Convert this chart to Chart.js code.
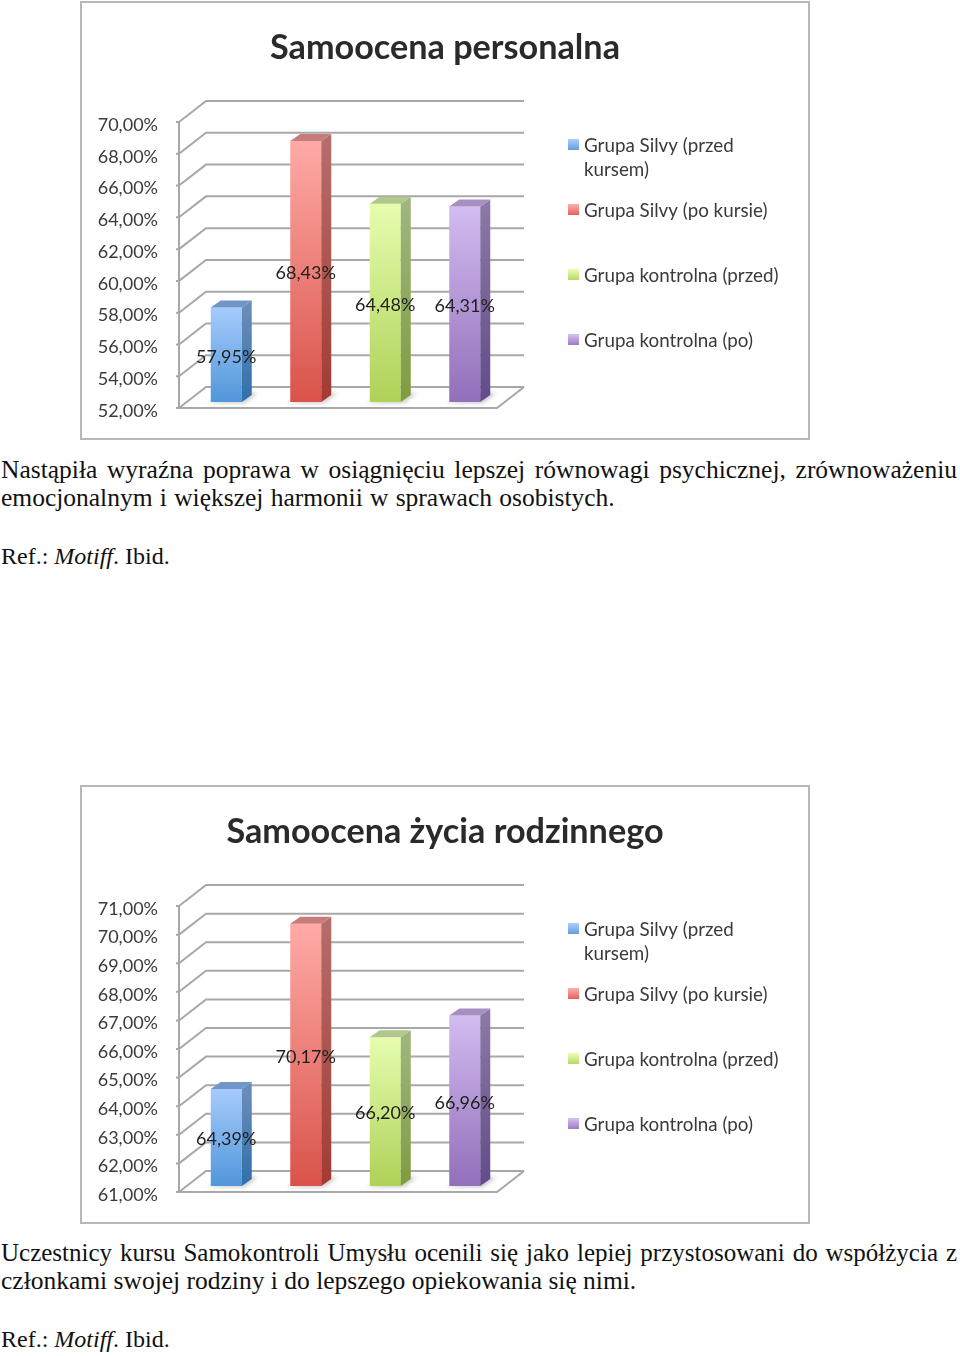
<!DOCTYPE html>
<html lang="pl">
<head>
<meta charset="utf-8">
<title>Samoocena</title>
<script src="https://cdn.jsdelivr.net/npm/chart.js@4"></script>
<style>
  html, body { margin: 0; background: #fff; }
  body { position: relative; width: 960px; height: 1356px; overflow: hidden; }
  .box { position: absolute; left: 80px; width: 726px; height: 435px; border: 2px solid #b8b8b8; background: #fff; }
  canvas { display: block; }
  .line { position: absolute; left: 1px; font: 25.5px/28px "Liberation Serif", serif; color: #111; white-space: nowrap; }
  .just { width: 956px; white-space: normal; text-align: justify; text-align-last: justify; }
  .ref { font-size: 24px; }
</style>
</head>
<body>
<div class="box" style="top:1px"><canvas id="chartPersonal" width="726" height="435"></canvas></div>
<div class="line just" style="top:456px">Nastąpiła wyraźna poprawa w osiągnięciu lepszej równowagi psychicznej, zrównoważeniu</div>
<div class="line" style="top:484px;word-spacing:.9px">emocjonalnym i większej harmonii w sprawach osobistych.</div>
<div class="line ref" style="top:542px">Ref.: <i>Motiff</i>. Ibid.</div>

<div class="box" style="top:785px"><canvas id="chartFamily" width="726" height="435"></canvas></div>
<div class="line just" style="top:1239px;font-size:25px">Uczestnicy kursu Samokontroli Umysłu ocenili się jako lepiej przystosowani do współżycia z</div>
<div class="line" style="top:1267px">członkami swojej rodziny i do lepszego opiekowania się nimi.</div>
<div class="line ref" style="top:1325px">Ref.: <i>Motiff</i>. Ibid.</div>

<script>
const seriesNames = ['Grupa Silvy (przed kursem)', 'Grupa Silvy (po kursie)', 'Grupa kontrolna (przed)', 'Grupa kontrolna (po)']
const legendLines = [['Grupa Silvy (przed', 'kursem)'], ['Grupa Silvy (po kursie)'], ['Grupa kontrolna (przed)'], ['Grupa kontrolna (po)']]

const personalValues = [57.95, 68.43, 64.48, 64.31]
const personalTicks = [52, 54, 56, 58, 60, 62, 64, 66, 68, 70]

const familyValues = [64.39, 70.17, 66.20, 66.96]
const familyTicks = [61, 62, 63, 64, 65, 66, 67, 68, 69, 70, 71]

const faceTop = ['#a6cbfb', '#ffaaa6', '#e6fdae', '#d2bcf0']
const faceBottom = ['#5196da', '#d9534a', '#afd158', '#926fba']
const sideTop = ['#6a8db8', '#b36d6a', '#9fb57c', '#8b78a6']
const sideBottom = ['#2f70aa', '#a33b33', '#7f9c40', '#644a8b']
const capColor = ['#7096c8', '#c87c79', '#b0c88b', '#a790c1']

const fontName = 'Lato, sans-serif'
const textColor = '#3a3a3a'
const gridColor = '#a8a8a8'

// how far the bars and the back wall sit behind the axis line
const barShiftX = 7.5
const barShiftY = 6
const wallX = 27
const wallY = 21

function percent(v) {
  return v.toFixed(2).replace('.', ',') + '%'
}

const look3d = {
  id: 'look3d',
  afterLayout(chart) {
    // title is centred on the whole box, not on the padded part
    chart.titleBlock.left = 0
    chart.titleBlock.right = chart.width
  },
  beforeDatasetsDraw(chart) {
    const ctx = chart.ctx
    const { left, right, bottom } = chart.chartArea
    const y = chart.scales.y
    ctx.save()
    ctx.strokeStyle = gridColor
    ctx.lineWidth = 2
    ctx.beginPath()
    y.ticks.forEach(t => {
      const py = y.getPixelForValue(t.value)
      ctx.moveTo(left - 3, py)
      ctx.lineTo(left, py)
      ctx.lineTo(left + wallX, py - wallY)
      ctx.lineTo(right + wallX, py - wallY)
    })
    ctx.moveTo(left, y.top)
    ctx.lineTo(left, bottom)
    ctx.lineTo(right, bottom)
    ctx.lineTo(right + wallX, bottom - wallY)
    ctx.stroke()

    // floor shadows
    ctx.filter = 'blur(2px)'
    ctx.fillStyle = 'rgba(0,0,0,0.22)'
    chart.data.datasets.forEach((ds, i) => {
      const bar = chart.getDatasetMeta(i).data[0]
      const x0 = bar.x + barShiftX - bar.width / 2
      const x1 = bar.x + barShiftX + bar.width / 2
      const b = bar.base - barShiftY
      ctx.beginPath()
      ctx.moveTo(x0 - 4, b + 1)
      ctx.lineTo(x1 + 3, b + 1)
      ctx.lineTo(x1 + 16, b - 9)
      ctx.lineTo(x1 + 8, b - 9)
      ctx.closePath()
      ctx.fill()
    })
    ctx.restore()

    // bars stand halfway into the floor
    ctx.save()
    ctx.translate(barShiftX, -barShiftY)
  },
  afterDatasetsDraw(chart) {
    const ctx = chart.ctx
    ctx.restore()
    ctx.save()
    chart.data.datasets.forEach((ds, i) => {
      const bar = chart.getDatasetMeta(i).data[0]
      const x0 = bar.x + barShiftX - bar.width / 2
      const x1 = bar.x + barShiftX + bar.width / 2
      const top = bar.y - barShiftY
      const b = bar.base - barShiftY

      const g = ctx.createLinearGradient(0, top, 0, b)
      g.addColorStop(0, sideTop[i])
      g.addColorStop(1, sideBottom[i])
      ctx.fillStyle = g
      ctx.beginPath()
      ctx.moveTo(x1, top)
      ctx.lineTo(x1 + 10, top - 7)
      ctx.lineTo(x1 + 10, b - 7)
      ctx.lineTo(x1, b)
      ctx.closePath()
      ctx.fill()

      ctx.fillStyle = capColor[i]
      ctx.beginPath()
      ctx.moveTo(x0, top)
      ctx.lineTo(x0 + 10, top - 7)
      ctx.lineTo(x1 + 10, top - 7)
      ctx.lineTo(x1, top)
      ctx.closePath()
      ctx.fill()

      ctx.fillStyle = '#1f1f1f'
      ctx.font = '18px ' + fontName
      ctx.textAlign = 'center'
      ctx.textBaseline = 'middle'
      ctx.fillText(percent(ds.data[0]), (x0 + x1) / 2, (top + b) / 2 + 2)
    })
    ctx.restore()
  },
  afterDraw(chart) {
    const ctx = chart.ctx
    ctx.save()
    ctx.font = '18.8px ' + fontName
    ctx.textBaseline = 'middle'
    legendLines.forEach((lines, i) => {
      const ly = 143 + i * 65
      const g = ctx.createLinearGradient(0, ly - 6, 0, ly + 6)
      g.addColorStop(0, faceTop[i])
      g.addColorStop(1, faceBottom[i])
      ctx.fillStyle = g
      ctx.fillRect(486, ly - 7, 11, 11)
      ctx.fillStyle = textColor
      lines.forEach((t, k) => ctx.fillText(t, 502, ly + k * 24))
    })
    ctx.restore()
  }
}

function makeChart(id, titleText, values, ticks) {
  const datasets = seriesNames.map((name, i) => ({
    label: name,
    data: [values[i]],
    base: ticks[0],
    backgroundColor(c) {
      if (!c.chart.chartArea) return faceBottom[i]
      const y = c.chart.scales.y
      const g = c.chart.ctx.createLinearGradient(0, y.getPixelForValue(values[i]), 0, y.bottom)
      g.addColorStop(0, faceTop[i])
      g.addColorStop(1, faceBottom[i])
      return g
    },
    borderWidth: 0,
    categoryPercentage: 1,
    barPercentage: 0.39
  }))
  return new Chart(document.getElementById(id), {
    type: 'bar',
    data: { labels: [''], datasets: datasets },
    plugins: [look3d],
    options: {
      responsive: false,
      animation: false,
      layout: { padding: { left: 0, right: 311, top: 0, bottom: 30 } },
      plugins: {
        legend: { display: false },
        tooltip: { enabled: false },
        title: {
          display: true,
          text: titleText,
          color: '#2a2a2a',
          font: { family: fontName, size: 34.2, weight: 'bold' },
          padding: { top: 24, bottom: 54 }
        }
      },
      scales: {
        x: { display: false },
        y: {
          min: ticks[0],
          max: ticks[ticks.length - 1],
          afterFit(s) { s.width = 97 },
          afterBuildTicks(s) { s.ticks = ticks.map(v => ({ value: v })) },
          grid: { display: false },
          border: { display: false },
          ticks: {
            padding: 13,
            labelOffset: 3,
            color: textColor,
            font: { family: fontName, size: 18 },
            callback: v => percent(v)
          }
        }
      }
    }
  })
}

makeChart('chartPersonal', 'Samoocena personalna', personalValues, personalTicks)
makeChart('chartFamily', 'Samoocena życia rodzinnego', familyValues, familyTicks)
</script>
</body>
</html>
